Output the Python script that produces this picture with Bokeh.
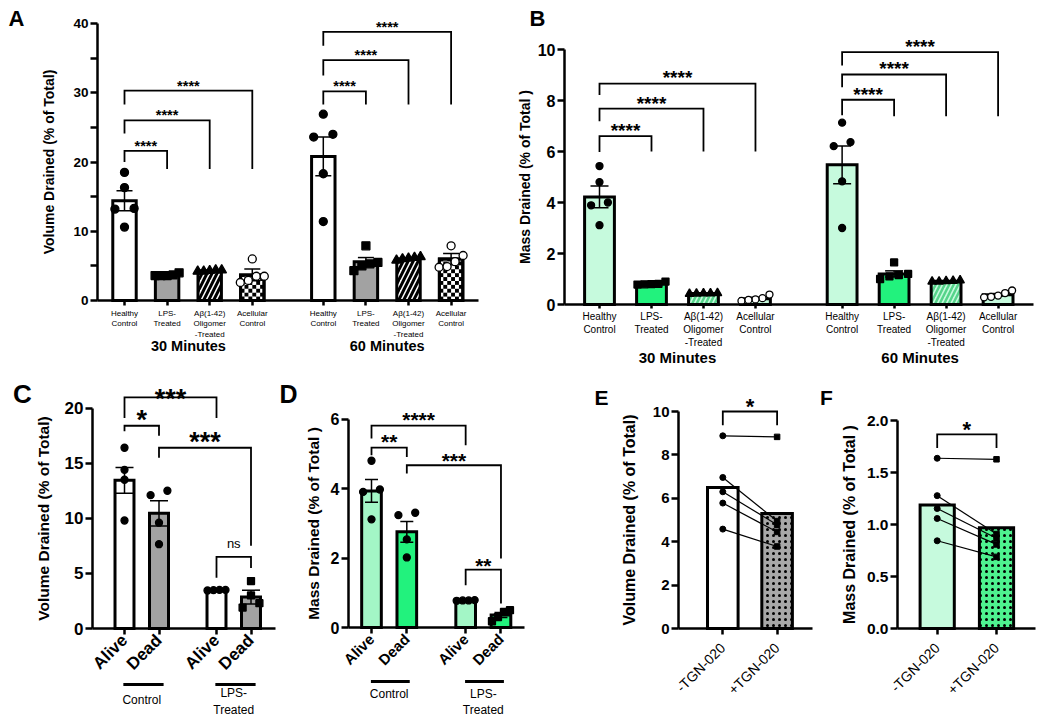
import math
from bokeh.plotting import figure
from bokeh.models import FixedTicker, Range1d, NumeralTickFormatter
from bokeh.layouts import row, column
from bokeh.embed import file_html
from bokeh.resources import INLINE
from bokeh.core.properties import value

FONT = "Liberation Sans"

# ---------------- data ----------------
AB_CONDITIONS = ["Healthy\nControl", "LPS-\nTreated", "Aβ(1-42)\nOligomer\n-Treated", "Acellular\nControl"]
AB_TIMES = ["30 Minutes", "60 Minutes"]

A_MEAN = [14.4, 3.7, 4.3, 3.7, 20.8, 5.6, 6.0, 6.0]
A_SEM = [1.45, 0.12, 0.08, 0.85, 2.8, 0.6, 0.15, 0.8]
A_POINTS = [
    [18.5, 16.3, 13.2, 13.3, 10.6],
    [4.0, 3.7, 3.6, 3.6, 3.6],
    [4.4, 4.2, 4.3, 4.2, 4.4],
    [6.0, 3.5, 3.5, 2.6, 2.9],
    [26.9, 23.6, 24.0, 18.3, 11.4],
    [7.9, 5.5, 5.3, 4.3, 5.0],
    [6.3, 6.0, 5.8, 6.1, 6.2],
    [7.9, 6.5, 4.8, 4.9, 5.6],
]
# (bar i, bar j, bracket height, left leg end, right leg end, text, text height)
A_BRACKETS = [
    (0, 1, 21.6, 20.0, 19.0, "****", 22.8),
    (0, 2, 26.0, 24.1, 19.0, "****", 27.2),
    (0, 3, 30.3, 28.3, 19.0, "****", 31.5),
    (4, 5, 30.2, 28.3, 28.3, "****", 31.4),
    (4, 6, 34.7, 32.5, 28.3, "****", 35.9),
    (4, 7, 38.8, 36.8, 28.3, "****", 40.0),
]
A_YTICKS = [0, 10, 20, 30, 40]
A_YMINOR = [5, 15, 25, 35]

B_MEAN = [4.22, 0.82, 0.43, 0.23, 5.48, 1.2, 0.91, 0.38]
B_SEM = [0.43, 0.03, 0.01, 0.05, 0.74, 0.12, 0.02, 0.05]
B_POINTS = [
    [5.43, 4.80, 4.00, 3.89, 3.11],
    [0.90, 0.80, 0.78, 0.81, 0.79],
    [0.45, 0.42, 0.44, 0.43, 0.44],
    [0.39, 0.25, 0.20, 0.14, 0.18],
    [7.13, 6.21, 6.37, 4.83, 3.00],
    [1.65, 1.20, 1.10, 1.00, 1.15],
    [0.95, 0.92, 0.90, 0.93, 0.90],
    [0.55, 0.45, 0.35, 0.30, 0.28],
]
B_BRACKETS = [
    (0, 1, 6.6, 5.98, 6.0, "****", 7.0),
    (0, 2, 7.68, 7.19, 6.0, "****", 8.07),
    (0, 3, 8.66, 8.22, 6.0, "****", 9.07),
    (4, 5, 8.03, 7.42, 7.38, "****", 8.42),
    (4, 6, 9.02, 8.52, 7.38, "****", 9.44),
    (4, 7, 9.9, 9.37, 7.38, "****", 10.29),
]
B_YTICKS = [0, 2, 4, 6, 8, 10]

CD_CONDITIONS = ["Alive", "Dead", "Alive", "Dead"]
CD_GROUPS = ["Control", "LPS-\nTreated"]

C_MEAN = [13.45, 10.45, 3.48, 2.85]
C_SEM = [1.17, 1.15, 0.03, 0.63]
C_POINTS = [[16.4, 14.4, 13.5, 9.8], [12.5, 12.1, 9.6, 7.65], [3.5, 3.45, 3.5, 3.48], [4.3, 3.0, 2.3, 1.9]]
C_BRACKETS = [
    (0, 1, 18.4, 17.9, 17.5, "*", 19.45),
    (0, 2, 20.97, 19.1, 19.1, "***", 21.42),
    (1, 3, 16.4, 15.5, 7.5, "***", 17.5),
    (2, 3, 6.5, 4.6, 5.5, "ns", 7.63),
]
C_YTICKS = [0, 5, 10, 15, 20]

D_MEAN = [3.94, 2.76, 0.78, 0.36]
D_SEM = [0.33, 0.3, 0.01, 0.07]
D_POINTS = [[4.81, 3.98, 3.91, 3.12], [3.24, 3.31, 2.54, 2.02], [0.79, 0.78, 0.77, 0.78], [0.45, 0.50, 0.30, 0.18]]
D_BRACKETS = [
    (0, 1, 5.19, 4.97, 4.92, "**", 5.5),
    (0, 2, 5.82, 5.45, 5.26, "****", 6.15),
    (1, 3, 4.68, 4.44, 1.99, "***", 4.97),
    (2, 3, 1.67, 1.22, 0.69, "**", 1.94),
]
D_YTICKS = [0, 2, 4, 6]

EF_CONDITIONS = ["-TGN-020", "+TGN-020"]
E_MEAN = [6.5, 5.3]
E_MINUS = [8.88, 6.96, 6.30, 5.78, 4.58]
E_PLUS = [8.83, 4.95, 4.78, 4.45, 3.78]
E_BRACKETS = [(0, 1, 10.0, 9.37, 9.37, "*", 10.46)]
E_YTICKS = [0, 2, 4, 6, 8, 10]

F_MEAN = [1.19, 0.97]
F_MINUS = [1.64, 1.28, 1.156, 1.06, 0.845]
F_PLUS = [1.63, 0.91, 0.87, 0.81, 0.69]
F_BRACKETS = [(0, 1, 1.87, 1.74, 1.74, "*", 1.97)]
F_YTICKS = [0, 0.5, 1.0, 1.5, 2.0]

# ---------------- colours ----------------
PALE = "#c6fadd"
BRIGHT = "#22f27d"
HATCH_G = "#55d48a"
ALIVE_G = "#a3f6c6"
GRAY = "#a2a2a2"
PLUS_G = "#4ef28f"


# ---------------- helpers ----------------
def make_panel(box, yaxis_px, xend_px, zero_px, x0px, xppu, yppu):
    """The frame fills the whole figure; both axes sit at fixed locations inside it."""
    fx, fy, w, h = box
    p = figure(width=w, height=h, title=None,
               x_range=Range1d((fx - x0px) / xppu, (fx + w - x0px) / xppu),
               y_range=Range1d((zero_px - (fy + h)) / yppu, (zero_px - fy) / yppu),
               min_border=0, min_border_left=0, min_border_right=0,
               min_border_top=0, min_border_bottom=0,
               output_backend="svg", toolbar_location=None)
    p.xgrid.visible = False
    p.ygrid.visible = False
    p.outline_line_color = None
    p.background_fill_color = "white"
    p.border_fill_color = "white"
    g = dict(zero=zero_px, x0px=x0px, xppu=xppu, yppu=yppu,
             yax=(yaxis_px - x0px) / xppu, xend=(xend_px - x0px) / xppu)
    p.yaxis[0].fixed_location = g["yax"]
    p.xaxis[0].fixed_location = 0
    p.xaxis[0].bounds = (g["yax"], g["xend"])
    return p, g


def px_to_data(g, px, py):
    return (px - g["x0px"]) / g["xppu"], (g["zero"] - py) / g["yppu"]


def style_y(p, ticks, minor, tick_fs, label, label_fs, standoff, fmt=None):
    ax = p.yaxis[0]
    ax.ticker = FixedTicker(ticks=ticks, minor_ticks=minor)
    ax.bounds = (0, ticks[-1])
    if fmt:
        ax.formatter = NumeralTickFormatter(format=fmt)
    ax.axis_line_width = 2.5
    ax.axis_line_color = "black"
    ax.major_tick_line_width = 2.5
    ax.major_tick_out = 7
    ax.major_tick_in = 0
    ax.minor_tick_line_width = 2.5
    ax.minor_tick_out = 7
    ax.minor_tick_in = 0
    ax.major_label_text_font = FONT
    ax.major_label_text_font_size = tick_fs
    ax.major_label_text_font_style = "bold"
    ax.major_label_text_color = "black"
    ax.major_label_standoff = 2
    ax.axis_label = label
    ax.axis_label_text_font = FONT
    ax.axis_label_text_font_size = label_fs
    ax.axis_label_text_font_style = "bold"
    ax.axis_label_text_color = "black"
    ax.axis_label_standoff = standoff


def style_x(p, xpos, labels, fs, bold, standoff, orientation=None, tick_out=5):
    ax = p.xaxis[0]
    ax.ticker = FixedTicker(ticks=xpos)
    ax.major_label_overrides = {x: l for x, l in zip(xpos, labels)}
    ax.axis_line_width = 2.5
    ax.axis_line_color = "black"
    ax.major_tick_line_width = 2.5
    ax.major_tick_out = tick_out
    ax.major_tick_in = 0
    ax.minor_tick_line_color = None
    ax.major_label_text_font = FONT
    ax.major_label_text_font_size = fs
    ax.major_label_text_font_style = "bold" if bold else "normal"
    ax.major_label_text_color = "black"
    ax.major_label_standoff = standoff
    if orientation is not None:
        ax.major_label_orientation = orientation


def add_text(p, g, x, py, text, fs, bold, baseline="middle"):
    _, y = px_to_data(g, 0, py)
    p.text(x=[x], y=[y], text=[text], text_font=value(FONT), text_font_size=fs,
           text_font_style="bold" if bold else "normal", text_align="center",
           text_baseline=baseline, text_color="black", text_line_height=1.2)


def add_letter(p, g, text, cx, cy, fs):
    x, _ = px_to_data(g, cx, 0)
    add_text(p, g, x, cy, text, fs, True)


def add_underline(p, g, x0, x1, py):
    _, y = px_to_data(g, 0, py)
    p.segment(x0=[x0], y0=[y], x1=[x1], y1=[y], line_color="black", line_width=3)


def draw_bars(p, xpos, means, bw, styles, lw=3):
    for x, m, st in zip(xpos, means, styles):
        p.vbar(x=x, top=m, width=bw, bottom=0, line_color="black", line_width=lw,
               line_join="miter", **st)


def draw_outline(p, x, m, bw, lw=3):
    p.vbar(x=x, top=m, width=bw, bottom=0, fill_color=None, line_color="black",
           line_width=lw, line_join="miter")


def draw_checker(p, g, x, m, bw, ncols=6):
    cw = bw / ncols
    ch = cw * g["xppu"] / g["yppu"]
    left, right, bottom, top = [], [], [], []
    r = 0
    while r * ch < m:
        for c in range(ncols):
            if (r + c) % 2 == 0:
                left.append(x - bw / 2 + c * cw)
                right.append(x - bw / 2 + (c + 1) * cw)
                bottom.append(r * ch)
                top.append(min((r + 1) * ch, m))
        r += 1
    p.quad(left=left, right=right, bottom=bottom, top=top, fill_color="black", line_color=None)


def draw_err(p, g, xpos, means, sems, cap_px, lw=1.5):
    cap = cap_px / g["xppu"]
    lo = [m - s for m, s in zip(means, sems)]
    hi = [m + s for m, s in zip(means, sems)]
    p.segment(x0=xpos, y0=lo, x1=xpos, y1=hi, line_color="black", line_width=lw)
    x0 = [x - cap / 2 for x in xpos]
    x1 = [x + cap / 2 for x in xpos]
    p.segment(x0=x0, y0=hi, x1=x1, y1=hi, line_color="black", line_width=lw)
    p.segment(x0=x0, y0=lo, x1=x1, y1=lo, line_color="black", line_width=lw)


def swarm(vals, g, diam, half_px, factor=2.4):
    n = len(vals)
    order = sorted(range(n), key=lambda k: vals[k])
    clusters = []
    for k in order:
        if clusters and (vals[k] - vals[clusters[-1][-1]]) * g["yppu"] < diam:
            clusters[-1].append(k)
        else:
            clusters.append([k])
    offs = [0.0] * n
    for cl in clusters:
        m = len(cl)
        if m == 1:
            continue
        step = min(factor * diam, 2 * half_px / (m - 1))
        for r, k in enumerate(cl):
            offs[k] = (r - (m - 1) / 2) * step / g["xppu"]
    return offs


def draw_points(p, g, xpos, points, markers, diam, half_px):
    for x, vals, (mk, fill) in zip(xpos, points, markers):
        offs = swarm(vals, g, diam, half_px)
        size = diam + (1.5 if mk == "triangle" else 0)
        p.scatter(x=[x + o for o in offs], y=vals, marker=mk, size=size,
                  fill_color=fill, line_color="black", line_width=1.3)


def draw_brackets(p, g, xpos, brackets, fs, ns_fs="13px", lw=1.8):
    xs, ys = [], []
    for (i, j, ly, le, rend, lab, laby) in brackets:
        xi, xj = xpos[i], xpos[j]
        xs.append([xi, xi, xj, xj])
        ys.append([le, ly, ly, rend])
    p.multi_line(xs=xs, ys=ys, line_color="black", line_width=lw, line_join="miter")
    for (i, j, ly, le, rend, lab, laby) in brackets:
        xm = (xpos[i] + xpos[j]) / 2
        if "*" in lab:
            f = float(fs.replace("px", ""))
            ytxt = laby - 0.23 * f / g["yppu"]
            size, style = fs, "bold"
        else:
            f = float(ns_fs.replace("px", ""))
            ytxt = laby + 0.09 * f / g["yppu"]
            size, style = ns_fs, "normal"
        p.text(x=[xm], y=[ytxt], text=[lab], text_font=value(FONT), text_font_size=size,
               text_font_style=style, text_align="center", text_baseline="middle",
               text_color="black")


# positions: 3 units between neighbouring bars, 2 extra units between groups
def positions(n_per_group, n_groups, step=3, gap=2):
    return [step * (g * n_per_group + i) + gap * g for g in range(n_groups) for i in range(n_per_group)]


ab_x = positions(4, 2)
cd_x = positions(2, 2)
ef_x = positions(2, 1)
ab_centers = [(ab_x[0] + ab_x[3]) / 2, (ab_x[4] + ab_x[7]) / 2]
cd_centers = [(cd_x[0] + cd_x[1]) / 2, (cd_x[2] + cd_x[3]) / 2]
ab_markers = [("circle", "black"), ("square", "black"), ("triangle", "black"), ("circle", "white")] * 2
cd_markers = [("circle", "black"), ("circle", "black"), ("circle", "black"), ("square", "black")]

ROW1_H = 370
ROW2_H = 353

# ---------------- Panel A ----------------
pA, gA = make_panel((0, 0, 512, ROW1_H), 97, 478, 300, 124, 14.2, 6.925)
style_y(pA, A_YTICKS, A_YMINOR, "13.5px", "Volume Drained (% of Total)", "14px", 13)
style_x(pA, ab_x, AB_CONDITIONS * 2, "8px", False, 3, tick_out=5)
bwA = 1.65
a_styles = [
    dict(fill_color="white"),
    dict(fill_color=GRAY),
    dict(fill_color="white", hatch_pattern="/", hatch_color="black", hatch_weight=3, hatch_scale=10),
    dict(fill_color="white"),
] * 2
draw_bars(pA, ab_x, A_MEAN, bwA, a_styles)
for k in (3, 7):
    draw_checker(pA, gA, ab_x[k], A_MEAN[k], bwA)
    draw_outline(pA, ab_x[k], A_MEAN[k], bwA)
draw_err(pA, gA, ab_x, A_MEAN, A_SEM, 16)
draw_points(pA, gA, ab_x, A_POINTS, ab_markers, 8, 12)
draw_brackets(pA, gA, ab_x, A_BRACKETS, "14.5px")
for c, t in zip(ab_centers, AB_TIMES):
    add_text(pA, gA, c, 345, t, "14.5px", True)
add_letter(pA, gA, "A", 16, 18, "22px")

# ---------------- Panel B ----------------
pB, gB = make_panel((512, 0, 536, ROW1_H), 564, 1033, 304, 599, 17.33, 25.5)
style_y(pB, B_YTICKS, [], "16px", "Mass Drained (% of Total )", "14px", 2)
style_x(pB, ab_x, AB_CONDITIONS * 2, "10px", False, 2, tick_out=4)
bwB = 1.72
b_styles = [
    dict(fill_color=PALE),
    dict(fill_color=BRIGHT),
    dict(fill_color=PALE, hatch_pattern="/", hatch_color=HATCH_G, hatch_weight=2.5, hatch_scale=9),
    dict(fill_color=PALE),
] * 2
draw_bars(pB, ab_x, B_MEAN, bwB, b_styles)
draw_err(pB, gB, ab_x, B_MEAN, B_SEM, 18)
draw_points(pB, gB, ab_x, B_POINTS, ab_markers, 7, 14)
draw_brackets(pB, gB, ab_x, B_BRACKETS, "19px")
for c, t in zip(ab_centers, AB_TIMES):
    add_text(pB, gB, c, 357, t, "15px", True)
add_letter(pB, gB, "B", 537, 18, "22px")

# ---------------- Panel C ----------------
pC, gC = make_panel((0, ROW1_H, 276, ROW2_H), 92, 275, 628, 124, 11.5, 11.02)
style_y(pC, C_YTICKS, [], "17px", "Volume Drained (% of Total)", "15.5px", 10)
style_x(pC, cd_x, CD_CONDITIONS, "17px", True, 3, orientation=math.pi / 4, tick_out=6)
bwC = 1.65
c_styles = [dict(fill_color="white"), dict(fill_color=GRAY)] * 2
draw_bars(pC, cd_x, C_MEAN, bwC, c_styles)
draw_err(pC, gC, cd_x, C_MEAN, C_SEM, 18)
draw_points(pC, gC, cd_x, C_POINTS, cd_markers, 7, 9)
draw_brackets(pC, gC, cd_x, C_BRACKETS, "27px")
add_underline(pC, gC, cd_x[0] - 0.1, cd_x[1] + 0.4, 684)
add_underline(pC, gC, cd_x[2] - 0.1, cd_x[3] + 0.4, 684)
add_text(pC, gC, cd_centers[0], 699, CD_GROUPS[0], "12px", False)
add_text(pC, gC, cd_centers[1], 701, CD_GROUPS[1], "12px", False)
add_letter(pC, gC, "C", 22, 393, "26px")

# ---------------- Panel D ----------------
pD, gD = make_panel((276, ROW1_H, 314, ROW2_H), 348, 524, 627, 371, 11.77, 34.67)
style_y(pD, D_YTICKS, [], "16px", "Mass Drained (% of Total )", "15.5px", 6)
style_x(pD, cd_x, CD_CONDITIONS, "15px", True, 3, orientation=math.pi / 4, tick_out=6)
bwD = 1.67
d_styles = [dict(fill_color=ALIVE_G), dict(fill_color=BRIGHT)] * 2
draw_bars(pD, cd_x, D_MEAN, bwD, d_styles)
draw_err(pD, gD, cd_x, D_MEAN, D_SEM, 13)
draw_points(pD, gD, cd_x, D_POINTS, cd_markers, 7, 9)
draw_brackets(pD, gD, cd_x, D_BRACKETS, "21px")
add_underline(pD, gD, cd_x[0] - 0.05, cd_x[1] + 0.25, 681)
add_underline(pD, gD, cd_x[2] - 0.05, cd_x[3] + 0.25, 681)
add_text(pD, gD, cd_centers[0], 686, CD_GROUPS[0], "12px", False, baseline="top")
add_text(pD, gD, cd_centers[1], 686, CD_GROUPS[1], "12px", False, baseline="top")
add_letter(pD, gD, "D", 288, 393, "25px")

# ---------------- Panel E ----------------
pE, gE = make_panel((590, ROW1_H, 225, ROW2_H), 678, 812, 628, 722.3, 18.1, 21.7)
style_y(pE, E_YTICKS, [], "15px", "Volume Drained (% of Total)", "16px", 12)
style_x(pE, ef_x, EF_CONDITIONS, "14px", False, 11, orientation=math.pi / 4, tick_out=6)
bwE = 1.69
e_styles = [dict(fill_color="white"),
            dict(fill_color="#a8a8a8", hatch_pattern=".", hatch_color="black", hatch_weight=2, hatch_scale=6)]
draw_bars(pE, ef_x, E_MEAN, bwE, e_styles)
pE.multi_line(xs=[[ef_x[0], ef_x[1]] for _ in E_MINUS], ys=[[a, b] for a, b in zip(E_MINUS, E_PLUS)],
              line_color="black", line_width=1.2)
pE.scatter(x=[ef_x[0]] * len(E_MINUS), y=E_MINUS, marker="circle", size=6, fill_color="black", line_color="black")
pE.scatter(x=[ef_x[1]] * len(E_PLUS), y=E_PLUS, marker="square", size=5.5, fill_color="black", line_color="black")
draw_brackets(pE, gE, ef_x, E_BRACKETS, "22px")
add_letter(pE, gE, "E", 601, 397, "21px")

# ---------------- Panel F ----------------
pF, gF = make_panel((815, ROW1_H, 233, ROW2_H), 897, 1035, 628, 936.7, 19.77, 103.8)
style_y(pF, F_YTICKS, [], "15.5px", "Mass Drained (% of Total )", "16px", 6, fmt="0.0")
style_x(pF, ef_x, EF_CONDITIONS, "14px", False, 11, orientation=math.pi / 4, tick_out=6)
bwF = 1.73
f_styles = [dict(fill_color=PALE),
            dict(fill_color=PLUS_G, hatch_pattern=".", hatch_color="black", hatch_weight=2, hatch_scale=6)]
draw_bars(pF, ef_x, F_MEAN, bwF, f_styles)
pF.multi_line(xs=[[ef_x[0], ef_x[1]] for _ in F_MINUS], ys=[[a, b] for a, b in zip(F_MINUS, F_PLUS)],
              line_color="black", line_width=1.2)
pF.scatter(x=[ef_x[0]] * len(F_MINUS), y=F_MINUS, marker="circle", size=6, fill_color="black", line_color="black")
pF.scatter(x=[ef_x[1]] * len(F_PLUS), y=F_PLUS, marker="square", size=5.5, fill_color="black", line_color="black")
draw_brackets(pF, gF, ef_x, F_BRACKETS, "22px")
add_letter(pF, gF, "F", 826, 397, "21px")

layout = column(row(pA, pB), row(pC, pD, pE, pF))
open("out.html", "w").write(file_html(layout, INLINE))
